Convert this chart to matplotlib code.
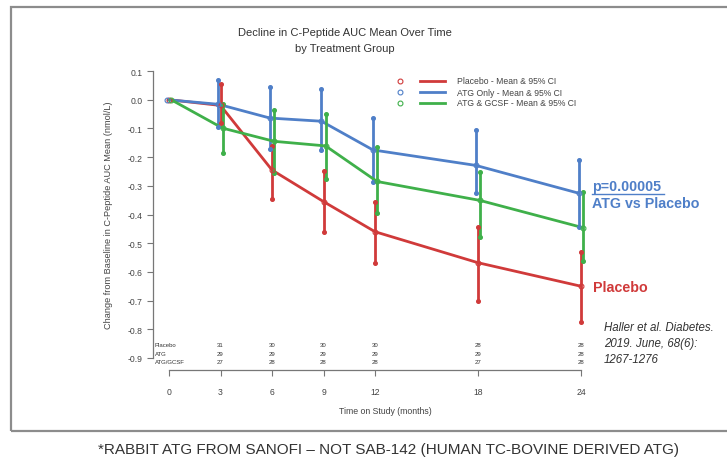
import matplotlib
matplotlib.use("Agg")
import matplotlib.pyplot as plt
from matplotlib.patches import Rectangle

plt.rcParams["font.family"] = ["Liberation Sans", "DejaVu Sans"]

# -------------------------------
# Data
# -------------------------------
months = [0, 3, 6, 9, 12, 18, 24]

placebo_mean = [0.0, -0.02, -0.245, -0.355, -0.46, -0.568, -0.65]
placebo_lo = [0.0, -0.08, -0.345, -0.46, -0.57, -0.70, -0.775]
placebo_hi = [0.0, 0.055, -0.16, -0.25, -0.355, -0.445, -0.53]

atg_mean = [0.0, -0.016, -0.064, -0.075, -0.175, -0.229, -0.326]
atg_lo = [0.0, -0.095, -0.171, -0.177, -0.287, -0.324, -0.445]
atg_hi = [0.0, 0.07, 0.044, 0.036, -0.063, -0.107, -0.211]

gcsf_mean = [0.0, -0.099, -0.145, -0.161, -0.285, -0.351, -0.446]
gcsf_lo = [0.0, -0.186, -0.254, -0.275, -0.394, -0.478, -0.563]
gcsf_hi = [0.0, -0.015, -0.036, -0.049, -0.165, -0.252, -0.322]

risk_months = [3, 6, 9, 12, 18, 24]
risk_labels = ["Placebo", "ATG", "ATG/GCSF"]
risk_placebo = [31, 30, 30, 30, 28, 28]
risk_atg = [29, 29, 29, 29, 29, 28]
risk_gcsf = [27, 28, 28, 28, 27, 28]

y_ticks = [0.1, 0.0, -0.1, -0.2, -0.3, -0.4, -0.5, -0.6, -0.7, -0.8, -0.9]

RED = "#d03a3a"
BLUE = "#4f7fc8"
GREEN = "#3fb04a"

series = [
    ("Placebo - Mean & 95% CI", placebo_mean, placebo_lo, placebo_hi, RED, 0.0),
    ("ATG Only - Mean & 95% CI", atg_mean, atg_lo, atg_hi, BLUE, -0.12),
    ("ATG & GCSF - Mean & 95% CI", gcsf_mean, gcsf_lo, gcsf_hi, GREEN, 0.12),
]

# -------------------------------
# Figure / axes in pixel terms
# -------------------------------
W, H = 727, 464
fig = plt.figure(figsize=(W / 100, H / 100), dpi=100)

ax_l, ax_r, ax_t, ax_b = 153, 600, 65, 371
ax = fig.add_axes([ax_l / W, 1 - ax_b / H, (ax_r - ax_l) / W, (ax_b - ax_t) / H])

px_per_month = (581 - 169) / 24
ax.set_xlim(0 - (169 - ax_l) / px_per_month, 24 + (ax_r - 581) / px_per_month)
ax.set_ylim(-0.9 - (ax_b - 359) / 287, 0.1 + (72 - ax_t) / 287)

for label, mean, lo, hi, color, dx in series:
    xs = [m + dx for m in months]
    ax.plot(xs, mean, color=color, lw=2.0, zorder=3, solid_capstyle="butt")
    for x, m, a, b in zip(xs[1:], mean[1:], lo[1:], hi[1:]):
        ax.plot([x, x], [a, b], color=color, lw=2.0, zorder=3)
        ax.plot([x, x], [a, b], ls="none", marker="o", ms=2.6,
                color=color, zorder=4)
    ax.plot(xs, mean, ls="none", marker="o", ms=3.5, mfc="none",
            mec=color, mew=0.8, zorder=5)

# spines
for s in ["top", "right"]:
    ax.spines[s].set_visible(False)
ax.spines["left"].set_bounds(-0.9, 0.1)
ax.spines["bottom"].set_bounds(0, 24)
for s in ["left", "bottom"]:
    ax.spines[s].set_color("#777777")
    ax.spines[s].set_linewidth(0.9)

ax.set_yticks(y_ticks)
ax.set_yticklabels([f"{v:.1f}" for v in y_ticks])
ax.set_xticks(months)
ax.tick_params(axis="both", colors="#777777", labelcolor="#444444",
               length=4, width=0.8, labelsize=6.2)
ax.tick_params(axis="x", pad=8)

ax.set_xlabel("Time on Study (months)", fontsize=6.3, color="#444444")
ax.xaxis.set_label_coords((385 - ax_l) / (ax_r - ax_l), -(407 - ax_b) / (ax_b - ax_t))
ax.set_ylabel("Change from Baseline in C-Peptide AUC Mean (nmol/L)",
              fontsize=6.6, color="#444444")
ax.yaxis.set_label_coords(-(ax_l - 113) / (ax_r - ax_l), 0.51)

# at-risk table
risk_y = [-0.854, -0.883, -0.912]
for lab, yy, counts in zip(risk_labels, risk_y, [risk_placebo, risk_atg, risk_gcsf]):
    ax.text(-0.82, yy, lab, fontsize=4.3, color="#333333", va="center", ha="left")
    for m, c in zip(risk_months, counts):
        ax.text(m, yy, str(c), fontsize=4.3, color="#333333", va="center", ha="center")

# legend drawn by hand
def to_ax(px, py):
    return (px - ax_l) / (ax_r - ax_l), (ax_b - py) / (ax_b - ax_t)

for i, (label, _, _, _, color, _) in enumerate(series):
    py = 82 + i * 11
    cx, cy = to_ax(400, py)
    ax.plot([cx], [cy], transform=ax.transAxes, marker="o", ms=3.5, mfc="none",
            mec=color, mew=0.8, clip_on=False)
    x1, _ = to_ax(420, py)
    x2, _ = to_ax(445, py)
    ax.plot([x1, x2], [cy, cy], transform=ax.transAxes, color=color, lw=2.0,
            clip_on=False)
    tx, _ = to_ax(457, py)
    ax.text(tx, cy, label, transform=ax.transAxes, fontsize=6.2, color="#444444",
            va="center", ha="left")

# title
fig.text(345 / W, 1 - 33 / H, "Decline in C-Peptide AUC Mean Over Time",
         fontsize=8, color="#333333", ha="center", va="center")
fig.text(345 / W, 1 - 49 / H, "by Treatment Group",
         fontsize=8, color="#333333", ha="center", va="center")

# annotations
fig.text(592 / W, 1 - 187 / H, "p=0.00005", fontsize=10.3, color=BLUE,
         fontweight="bold", ha="left", va="center")
fig.add_artist(plt.Line2D([592 / W, 664 / W], [1 - 195 / H, 1 - 195 / H],
                          color=BLUE, lw=1.0))
fig.text(592 / W, 1 - 204 / H, "ATG vs Placebo", fontsize=10.3, color=BLUE,
         fontweight="bold", ha="left", va="center")
fig.text(593 / W, 1 - 288 / H, "Placebo", fontsize=10.3, color=RED,
         fontweight="bold", ha="left", va="center")

cite = ["Haller et al. Diabetes.", "2019. June, 68(6):", "1267-1276"]
for i, line in enumerate(cite):
    fig.text(604 / W, 1 - (328 + i * 16) / H, line, fontsize=8.3, style="italic",
             color="#333333", ha="left", va="center")

# frame around the chart
fig.add_artist(Rectangle((11 / W, 1 - 431.5 / H), 1.2, (431.5 - 8) / H,
                         transform=fig.transFigure, fill=False,
                         edgecolor="#8c8c8c", lw=1.6, clip_on=False))

# footer
fig.text(388 / W, 1 - 450 / H,
         "*RABBIT ATG FROM SANOFI \u2013 NOT SAB-142 (HUMAN TC-BOVINE DERIVED ATG)",
         fontsize=11.0, color="#333333", ha="center", va="center")

fig.savefig("out.png", dpi=100)
